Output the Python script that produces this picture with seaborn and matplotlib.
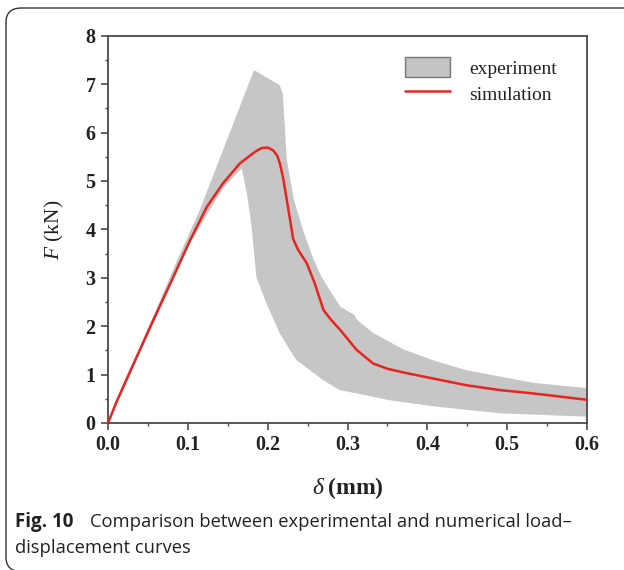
import numpy as np
import pandas as pd
import matplotlib
matplotlib.use("Agg")
import matplotlib.pyplot as plt
import seaborn as sns
from matplotlib.patches import Patch, FancyBboxPatch
from matplotlib.lines import Line2D
from matplotlib.ticker import MultipleLocator

# ---- data ----
sim_x = [0.0, 0.011, 0.030, 0.051, 0.078, 0.103, 0.124, 0.144, 0.165, 0.180, 0.186,
         0.1925, 0.200, 0.207, 0.212, 0.2155, 0.2195, 0.226, 0.232, 0.238, 0.249,
         0.259, 0.270, 0.280, 0.291, 0.3115, 0.332, 0.350, 0.374, 0.407, 0.449,
         0.491, 0.533, 0.600]
sim_y = [0.0, 0.45, 1.15, 1.92, 2.88, 3.78, 4.47, 4.95, 5.36, 5.55, 5.62,
         5.68, 5.69, 5.63, 5.52, 5.35, 5.05, 4.40, 3.80, 3.58, 3.30,
         2.88, 2.33, 2.12, 1.92, 1.51, 1.23, 1.12, 1.03, 0.92, 0.78,
         0.68, 0.61, 0.48]

exp_upper_x = [0.0, 0.04, 0.085, 0.115, 0.149, 0.183, 0.215, 0.219, 0.224, 0.233,
               0.245, 0.257, 0.268, 0.291, 0.309, 0.312, 0.332, 0.370, 0.410,
               0.449, 0.491, 0.533, 0.600]
exp_upper_y = [0.0, 1.55, 3.30, 4.40, 5.85, 7.29, 6.98, 6.80, 5.43, 4.60,
               3.95, 3.40, 3.00, 2.40, 2.23, 2.13, 1.86, 1.52, 1.28,
               1.09, 0.96, 0.83, 0.72]
exp_lower_x = [0.0, 0.05, 0.10, 0.144, 0.1675, 0.174, 0.180, 0.183, 0.186, 0.199,
               0.215, 0.228, 0.236, 0.269, 0.290, 0.312, 0.353, 0.410, 0.491, 0.600]
exp_lower_y = [0.0, 1.80, 3.65, 4.85, 5.26, 4.74, 4.05, 3.50, 3.00, 2.45,
               1.86, 1.50, 1.30, 0.89, 0.68, 0.61, 0.47, 0.34, 0.20, 0.13]

x_ticks = [0.0, 0.1, 0.2, 0.3, 0.4, 0.5, 0.6]
y_ticks = [0, 1, 2, 3, 4, 5, 6, 7, 8]

sim_df = pd.DataFrame({"delta": sim_x, "F": sim_y})

# ---- style ----
sns.set_theme(style="white")
plt.rcParams["font.family"] = ["Liberation Serif", "DejaVu Serif"]
plt.rcParams["mathtext.fontset"] = "custom"
plt.rcParams["mathtext.it"] = "Liberation Serif:italic"
plt.rcParams["mathtext.rm"] = "Liberation Serif"
plt.rcParams["mathtext.bf"] = "Liberation Serif:bold"

fig = plt.figure(figsize=(6.24, 5.70), dpi=100)
ax = fig.add_axes([108 / 624, 1 - 423 / 570, (587 - 108) / 624, (423 - 35.7) / 570])

band_color = "#c6c6c6"
red = "#e8241f"

poly_x = np.concatenate([exp_upper_x, exp_lower_x[::-1]])
poly_y = np.concatenate([exp_upper_y, exp_lower_y[::-1]])
ax.fill(poly_x, poly_y, color=band_color, lw=0, zorder=1)

sns.lineplot(data=sim_df, x="delta", y="F", ax=ax, color=red, lw=1.8,
             sort=False, estimator=None, zorder=3)

ax.set_xlim(0, 0.6)
ax.set_ylim(0, 8)
ax.set_xticks(x_ticks)
ax.set_yticks(y_ticks)
ax.xaxis.set_minor_locator(MultipleLocator(0.05))
ax.yaxis.set_minor_locator(MultipleLocator(0.5))
ax.set_xticklabels([f"{v:.1f}" for v in x_ticks])
ax.set_yticklabels([str(v) for v in y_ticks])

spine_c = "#4a4a4a"
for s in ax.spines.values():
    s.set_color(spine_c)
    s.set_linewidth(1.3)
ax.tick_params(axis="both", which="major", direction="out", length=5, width=1.2,
               color=spine_c, labelsize=14.5, pad=4, bottom=True, left=True,
               top=False, right=False)
ax.tick_params(axis="both", which="minor", direction="out", length=2.5, width=1.0,
               color=spine_c, bottom=True, left=True, top=False, right=False)
for lab in ax.get_xticklabels() + ax.get_yticklabels():
    lab.set_fontweight("bold")
    lab.set_color("#222222")

ax.set_xlabel(r"$\delta\;$(mm)", fontsize=17, fontweight="bold", color="#222222", labelpad=14)
ax.set_ylabel(r"$F$ (kN)", fontsize=15.5, color="#222222", labelpad=14)

handles = [Patch(facecolor="#c4c4c4", edgecolor="#777777", lw=1.0, label="experiment"),
           Line2D([0], [0], color=red, lw=1.8, label="simulation")]
leg = ax.legend(handles=handles, loc="upper left", frameon=False, fontsize=14,
                bbox_to_anchor=(0.62, 0.945), borderpad=0, borderaxespad=0,
                handlelength=2.3, handleheight=1.24,
                handletextpad=1.0, labelspacing=0.26)
for t in leg.get_texts():
    t.set_color("#222222")

# caption
cap_font = ["Open Sans", "DejaVu Sans"]
fig.text(15 / 624, 1 - 522 / 570, "Fig. 10", fontsize=13.5, fontweight="bold",
         family=cap_font, va="center", ha="left", color="#222222")
fig.text(90 / 624, 1 - 522 / 570, "Comparison between experimental and numerical load\u2013",
         fontsize=13.2, family=cap_font, va="center", ha="left", color="#222222")
fig.text(15 / 624, 1 - 548 / 570, "displacement curves", fontsize=13.2,
         family=cap_font, va="center", ha="left", color="#222222")

# rounded border
border = FancyBboxPatch((6 / 624, -1.5 / 570), 1.2, 1 - 8 / 570 + 1.5 / 570,
                        boxstyle="round,pad=0,rounding_size=0.025",
                        transform=fig.transFigure, fill=False, ec="#333333", lw=1.0,
                        clip_on=False)
fig.patches.append(border)

fig.savefig("out.png", dpi=100)
